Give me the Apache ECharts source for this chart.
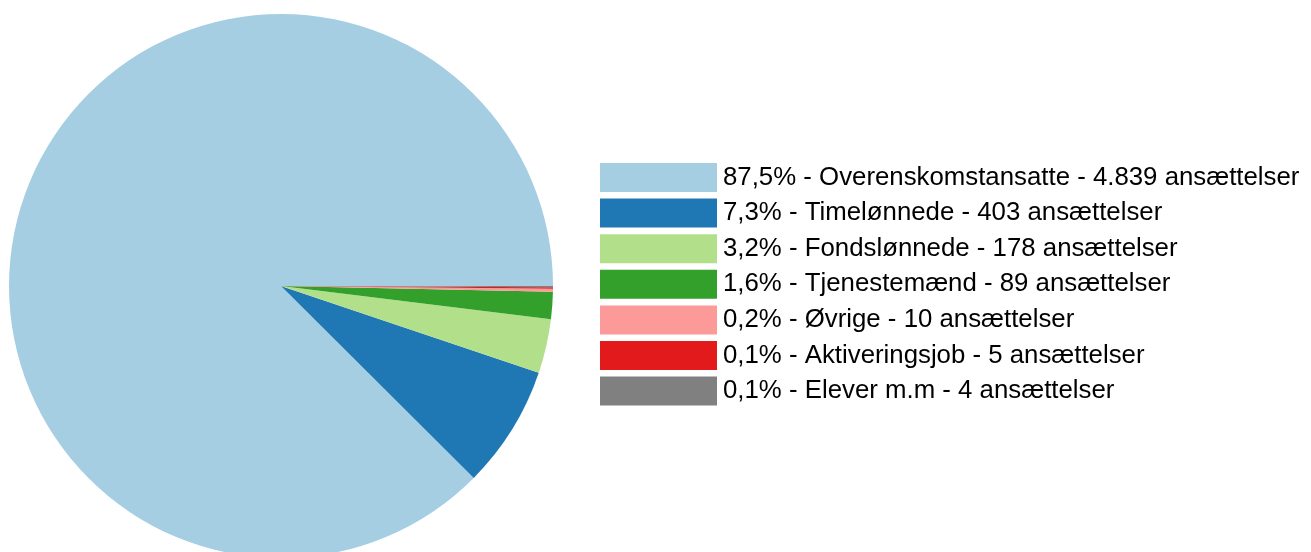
<!DOCTYPE html>
<html>
<head>
<meta charset="utf-8">
<script src="https://cdn.jsdelivr.net/npm/echarts@6/dist/echarts.min.js"></script>
<style>
  html, body { margin: 0; padding: 0; background: #fff; }
  #chart { width: 1311px; height: 552px; }
</style>
</head>
<body>
<div id="chart"></div>
<script>
// ansættelser fordelt på type
const categories = ['Overenskomstansatte', 'Timelønnede', 'Fondslønnede', 'Tjenestemænd', 'Øvrige', 'Aktiveringsjob', 'Elever m.m'];
const values = [4839, 403, 178, 89, 10, 5, 4];
const colors = ['#a6cee3', '#1f78b4', '#b2df8a', '#33a02c', '#fb9a99', '#e31a1c', '#808080'];

const total = values.reduce((a, b) => a + b, 0);
const fmtPct = v => (v / total * 100).toFixed(1).replace('.', ',') + '%';
const fmtNum = v => String(v).replace(/\B(?=(\d{3})+(?!\d))/g, '.');

const chart = echarts.init(document.getElementById('chart'));
chart.setOption({
  animation: false,
  color: colors,
  legend: {
    orient: 'vertical',
    left: 600,
    top: 163,
    padding: 0,
    itemWidth: 117,
    itemHeight: 29,
    itemGap: 6.6,
    icon: 'rect',
    selectedMode: false,
    textStyle: { fontFamily: 'Liberation Sans, Arial', fontSize: 25.8, color: '#000', padding: [0, 0, 0, 1] },
    formatter: name => {
      const v = values[categories.indexOf(name)];
      return fmtPct(v) + ' - ' + name + ' - ' + fmtNum(v) + ' ansættelser';
    }
  },
  series: [
    {
      type: 'pie',
      center: [281, 286],
      radius: 272,
      startAngle: 0,
      clockwise: false,
      label: { show: false },
      labelLine: { show: false },
      itemStyle: { borderWidth: 0 },
      data: categories.map((c, i) => ({ name: c, value: values[i] }))
    }
  ]
});

window.addEventListener('resize', () => {
  chart.resize();
});
</script>
</body>
</html>
